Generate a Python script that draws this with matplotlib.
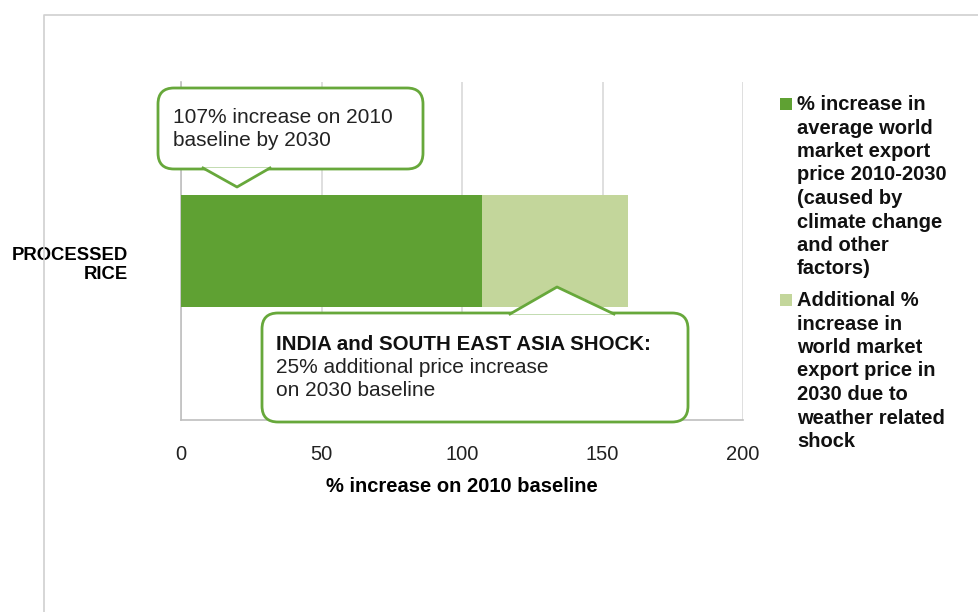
import matplotlib.pyplot as plt
from matplotlib.patches import FancyBboxPatch, Polygon
from matplotlib.lines import Line2D
from matplotlib.transforms import Affine2D, ScaledTranslation

categories = ["PROCESSED\nRICE"]
base_increase = [107]
shock_extra = [52]
x_ticks = [0, 50, 100, 150, 200]
legend_labels = [
    "% increase in\naverage world\nmarket export\nprice 2010-2030\n(caused by\nclimate change\nand other\nfactors)",
    "Additional %\nincrease in\nworld market\nexport price in\n2030 due to\nweather related\nshock",
]

plt.rcParams["font.family"] = ["Liberation Sans", "DejaVu Sans"]

DARK = "#5FA133"
LIGHT = "#C3D69B"
EDGE = "#67A83B"
W, H = 979, 612

fig = plt.figure(figsize=(W / 100, H / 100), dpi=100)
px = Affine2D().scale(1 / W, -1 / H).translate(0, 1) + fig.transFigure

# outer chart frame
fig.add_artist(Line2D([44, 44, W], [H, 15, 15], transform=px, color="#D0D0D0", lw=1.2))

ax = fig.add_axes([181 / W, 1 - 420 / H, (743 - 181) / W, (420 - 82) / H])
ax.barh(categories, base_increase, height=0.33, color=DARK, zorder=3)
ax.barh(categories, shock_extra, left=base_increase, height=0.33, color=LIGHT, zorder=3)
ax.set_xlim(0, 200)
ax.set_ylim(-0.5, 0.5)
ax.set_xticks(x_ticks)
ax.grid(axis="x", color="#D9D9D9", lw=1.2, zorder=0)
for s in ["top", "right"]:
    ax.spines[s].set_visible(False)
for s in ["left", "bottom"]:
    ax.spines[s].set_color("#BFBFBF")
    ax.spines[s].set_linewidth(1.2)
ax.tick_params(axis="x", length=0, pad=18, labelsize=14.5, colors="#222222")
ax.tick_params(axis="y", length=0, pad=38)
ax.set_yticks([0])
ax.set_yticklabels(categories, fontsize=13.3, fontweight="bold", ha="right", linespacing=1.2)
for lbl in ax.get_yticklabels():
    lbl.set_transform(lbl.get_transform() + ScaledTranslation(0, -0.105, fig.dpi_scale_trans))
ax.set_xlabel("% increase on 2010 baseline", fontsize=14.5, fontweight="bold", labelpad=9)


def callout(x0, y0, x1, y1, notch):
    box = FancyBboxPatch((x0, y0), x1 - x0, y1 - y0, boxstyle="round,pad=0,rounding_size=16",
                         transform=px, fc="white", ec=EDGE, lw=2, zorder=5)
    fig.add_artist(box)
    fig.add_artist(Polygon(notch, closed=True, transform=px, fc="white", ec="none", zorder=6))
    xs = [p[0] for p in notch]
    ys = [p[1] for p in notch]
    fig.add_artist(Line2D(xs, ys, transform=px, color=EDGE, lw=2, zorder=7))


callout(158, 88, 423, 169, [(203, 168), (237, 187), (270, 168)])
fig.text(173, 129, "107% increase on 2010\nbaseline by 2030", transform=px, fontsize=15,
         va="center", linespacing=1.3, color="#222222", zorder=8)

callout(262, 313, 688, 422, [(510, 314), (557, 287), (614, 314)])
fig.text(276, 344, "INDIA and SOUTH EAST ASIA SHOCK:", transform=px, fontsize=14.8,
         fontweight="bold", va="center", color="#111111", zorder=8)
fig.text(276, 379, "25% additional price increase\non 2030 baseline", transform=px, fontsize=15,
         va="center", linespacing=1.25, color="#222222", zorder=8)

# legend
for label, color, y in zip(legend_labels, [DARK, LIGHT], [104, 300]):
    fig.add_artist(Polygon([(780, y - 6), (792, y - 6), (792, y + 6), (780, y + 6)],
                           transform=px, fc=color, ec="none"))
    fig.text(797, y - 9, label, transform=px, fontsize=14.5, fontweight="bold",
             va="top", linespacing=1.3, color="#111111")

fig.savefig("out.png", dpi=100)
